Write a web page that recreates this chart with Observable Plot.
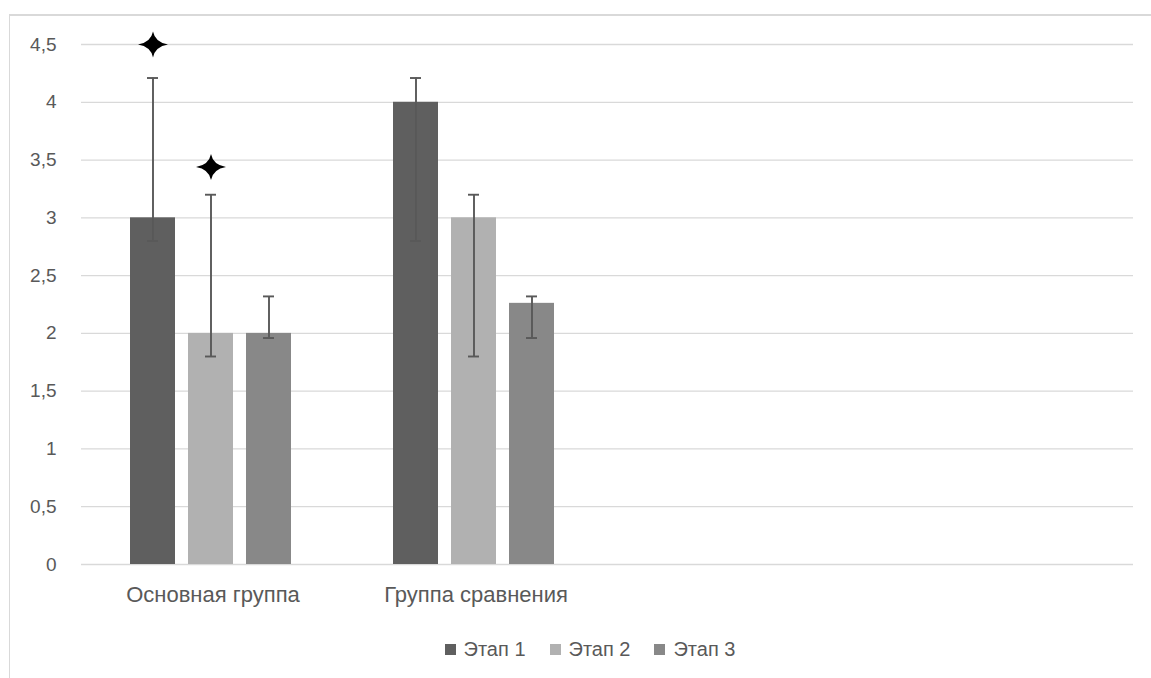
<!DOCTYPE html>
<html>
<head>
<meta charset="utf-8">
<script src="https://cdn.jsdelivr.net/npm/d3@7"></script>
<script src="https://cdn.jsdelivr.net/npm/@observablehq/plot@0.6"></script>
<style>
  html, body { margin: 0; padding: 0; background: #fff; }
  #frame {
    position: absolute; left: 9px; top: 14px; width: 1142px; height: 670px;
    border-left: 1px solid #d9d9d9; border-top: 2px solid #d9d9d9;
    font-family: "Liberation Sans", Arial, sans-serif;
  }
  #chart svg { display: block; }
  #chart svg text { font-family: "Liberation Sans", Arial, sans-serif; }
  #chart [aria-label^="fx-axis"] text { font-size: 22px; }
  #legend {
    display: flex; justify-content: center; align-items: center;
    margin-top: 24px; padding-left: 18px; color: #595959; font-size: 20px;
  }
  .item { display: flex; align-items: center; margin-right: 24px; }
  .item:last-child { margin-right: 0; }
  .sw { width: 11px; height: 11px; margin-right: 8px; }
</style>
</head>
<body>
<div id="frame">
  <div id="chart"></div>
  <div id="legend"></div>
</div>
<script>
const groups = ["Основная группа", "Группа сравнения", "", " "];
const stages = ["Этап 1", "Этап 2", "Этап 3"];
const colors = ["#5f5f5f", "#b1b1b1", "#888888"];
const yTicks = [0, 0.5, 1, 1.5, 2, 2.5, 3, 3.5, 4, 4.5];

const mainValues = [3, 2, 2];
const mainLow = [2.8, 1.8, 1.96];
const mainHigh = [4.21, 3.2, 2.32];

const compValues = [4, 3, 2.26];
const compLow = [2.8, 1.8, 1.96];
const compHigh = [4.21, 3.2, 2.32];

const starStages = ["Этап 1", "Этап 2"];
const starValues = [4.5, 3.44];

const rows = [];
stages.forEach((s, i) => {
  rows.push({group: groups[0], stage: s, value: mainValues[i], lo: mainLow[i], hi: mainHigh[i]});
  rows.push({group: groups[1], stage: s, value: compValues[i], lo: compLow[i], hi: compHigh[i]});
});
const grid = [];
groups.forEach(g => yTicks.forEach(v => grid.push({group: g, v})));
const stars = starStages.map((s, i) => ({group: groups[0], stage: s, v: starValues[i]}));

const star = {
  draw(context, size) {
    const k = Math.sqrt(size / Math.PI) / 13;
    const h = 15 * k, v = 13 * k, c = 2.1 * k;
    context.moveTo(0, -v);
    context.quadraticCurveTo(c, -c, h, 0);
    context.quadraticCurveTo(c, c, 0, v);
    context.quadraticCurveTo(-c, c, -h, 0);
    context.quadraticCurveTo(-c, -c, 0, -v);
    context.closePath();
  }
};

const chart = Plot.plot({
  width: 1141,
  height: 598,
  marginTop: 28,
  marginLeft: 70,
  marginRight: 17,
  marginBottom: 50,
  style: {fontSize: "19px", color: "#595959", background: "transparent"},
  fx: {domain: groups, padding: 0, axis: "bottom", label: null, tickSize: 0, tickPadding: 22, tickFormat: d => d.trim()},
  x: {domain: stages, paddingInner: 0.22, paddingOuter: 0.873, align: 0.48, axis: null},
  y: {domain: [0, 4.5], ticks: yTicks, tickSize: 0, tickPadding: 25, label: null,
      tickFormat: d => String(d).replace(".", ",")},
  color: {domain: stages, range: colors},
  marks: [
    Plot.ruleY(grid, {fx: "group", y: "v", stroke: "#d9d9d9", strokeWidth: 1.3}),
    Plot.barY(rows, {fx: "group", x: "stage", y: "value", fill: "stage"}),
    Plot.ruleX(rows, {fx: "group", x: "stage", y1: "lo", y2: "hi", stroke: "#595959", strokeWidth: 1.9}),
    Plot.tickY(rows, {fx: "group", x: "stage", y: "hi", stroke: "#595959", strokeWidth: 1.9, insetLeft: 17, insetRight: 17}),
    Plot.tickY(rows, {fx: "group", x: "stage", y: "lo", stroke: "#595959", strokeWidth: 1.9, insetLeft: 17, insetRight: 17}),
    Plot.dot(stars, {fx: "group", x: "stage", y: "v", symbol: star, r: 13, fill: "#000", stroke: "none"})
  ]
});
document.getElementById("chart").appendChild(chart);

const legend = document.getElementById("legend");
stages.forEach((s, i) => {
  const item = document.createElement("div");
  item.className = "item";
  const sw = document.createElement("div");
  sw.className = "sw";
  sw.style.background = colors[i];
  const t = document.createElement("span");
  t.textContent = s;
  item.appendChild(sw);
  item.appendChild(t);
  legend.appendChild(item);
});
</script>
</body>
</html>
